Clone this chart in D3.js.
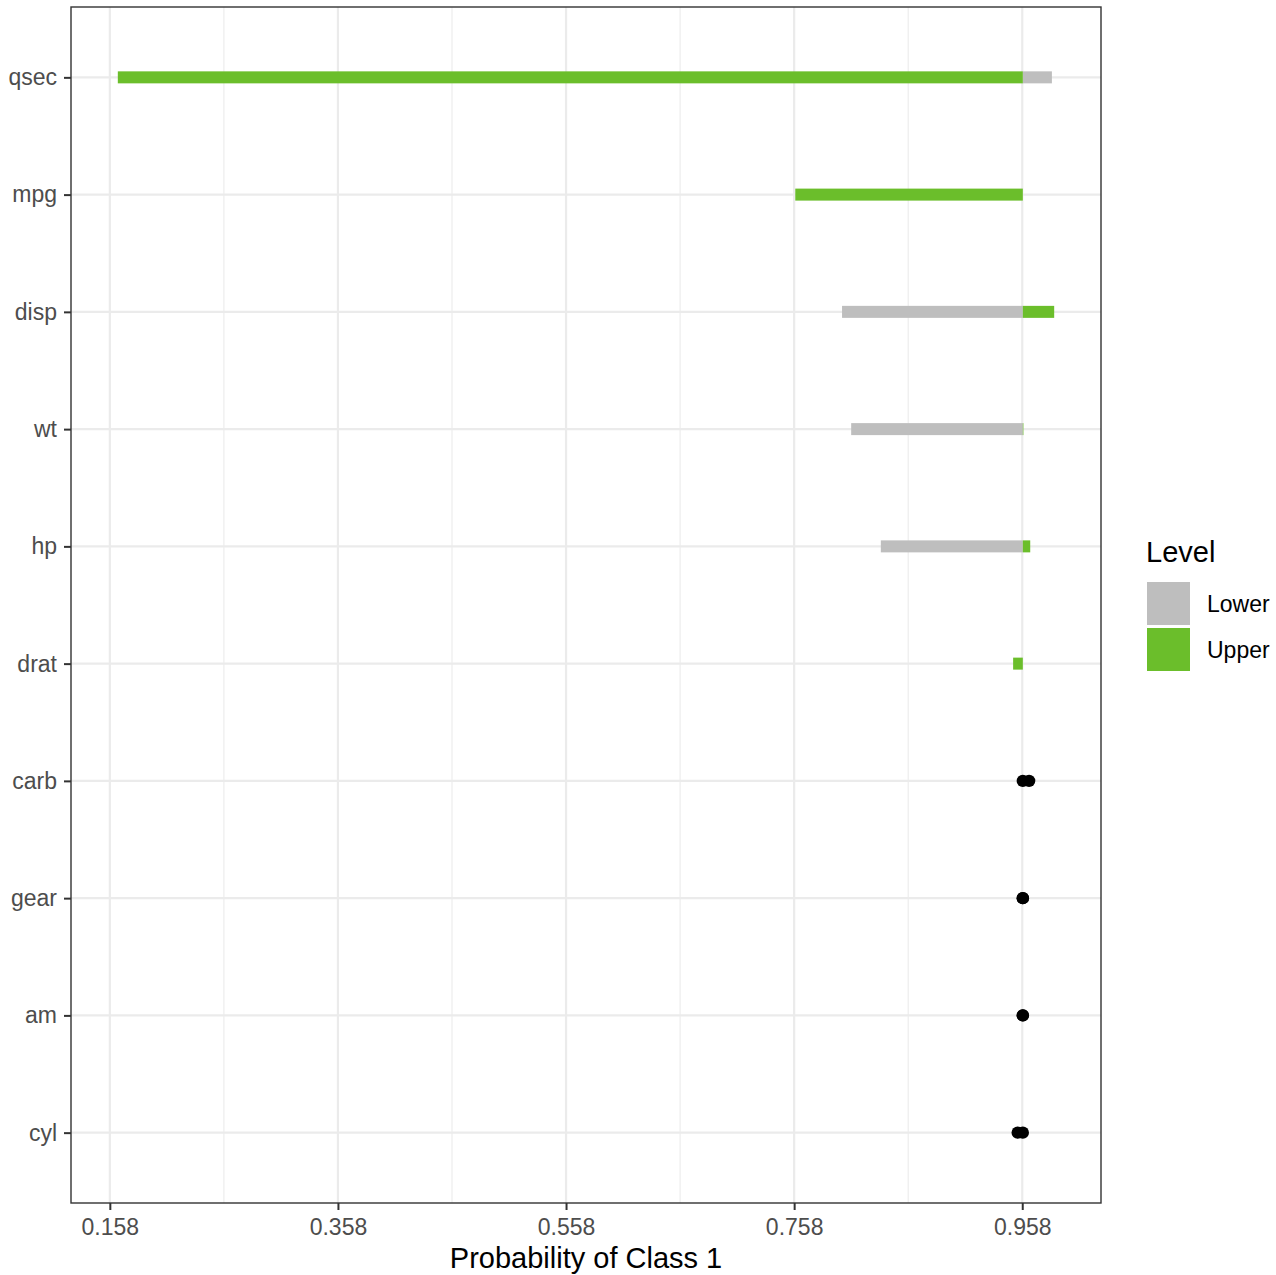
<!DOCTYPE html>
<html><head><meta charset="utf-8">
<script src="https://cdn.jsdelivr.net/npm/d3@7"></script>
<style>body{margin:0;background:#fff}svg{display:block}text{font-family:"Liberation Sans",Arial,sans-serif}</style>
</head><body>
<script>
const categories = ["qsec","mpg","disp","wt","hp","drat","carb","gear","am","cyl"];
const kinds = ["bar","bar","bar","bar","bar","bar","point","point","point","point"];
const baseProb = 0.9585;
const lowerVals = [0.984, 0.9585, 0.800, 0.808, 0.834, 0.9585, 0.9585, 0.9585, 0.9585, 0.954];
const upperVals = [0.165, 0.759, 0.986, 0.959, 0.965, 0.950, 0.964, 0.9585, 0.9585, 0.9585];
const xTicks = [0.158, 0.358, 0.558, 0.758, 0.958];
const xTickLabels = ["0.158","0.358","0.558","0.758","0.958"];
const levels = ["Lower","Upper"];
const levelColors = ["#BEBEBE","#6BBE2B"];

const W = 1276, H = 1275;
const P = {l:71, r:1101, t:7, b:1203};
const svg = d3.select("body").append("svg").attr("width",W).attr("height",H);

const allVals = lowerVals.concat(upperVals, [baseProb]);
const lo = d3.min(allVals), hi = d3.max(allVals), ext = (hi-lo)*0.05;
const x = d3.scaleLinear().domain([lo-ext, hi+ext]).range([P.l, P.r]);
const y = d3.scalePoint().domain(categories).range([P.t, P.b]).padding(0.6);

const g = svg.append("g");
const minor = [];
for (let i=0;i<xTicks.length-1;i++) minor.push((xTicks[i]+xTicks[i+1])/2);
g.selectAll(".mg").data(minor).join("line")
  .attr("x1",d=>x(d)).attr("x2",d=>x(d)).attr("y1",P.t).attr("y2",P.b)
  .attr("stroke","#EBEBEB").attr("stroke-width",1.1);
g.selectAll(".gx").data(xTicks).join("line")
  .attr("x1",d=>x(d)).attr("x2",d=>x(d)).attr("y1",P.t).attr("y2",P.b)
  .attr("stroke","#EBEBEB").attr("stroke-width",2.2);
g.selectAll(".gy").data(categories).join("line")
  .attr("x1",P.l).attr("x2",P.r).attr("y1",d=>y(d)).attr("y2",d=>y(d))
  .attr("stroke","#EBEBEB").attr("stroke-width",2.2);

const barH = 12;
categories.forEach((c,i)=>{
  if (kinds[i]!=="bar") return;
  [lowerVals[i], upperVals[i]].forEach((v,j)=>{
    const x0 = Math.min(x(baseProb), x(v)), x1 = Math.max(x(baseProb), x(v));
    if (x1-x0 < 0.01) return;
    g.append("rect").attr("x",x0).attr("width",x1-x0)
      .attr("y",y(c)-barH/2).attr("height",barH).attr("fill",levelColors[j]);
  });
});
categories.forEach((c,i)=>{
  if (kinds[i]!=="point") return;
  [lowerVals[i], upperVals[i]].forEach(v=>{
    g.append("circle").attr("cx",x(v)).attr("cy",y(c)).attr("r",6.2).attr("fill","#000");
  });
});

svg.append("rect").attr("x",P.l).attr("y",P.t).attr("width",P.r-P.l).attr("height",P.b-P.t)
  .attr("fill","none").attr("stroke","#333333").attr("stroke-width",1.4);

const xa = svg.append("g").attr("transform",`translate(0,${P.b})`)
  .call(d3.axisBottom(x).tickValues(xTicks).tickFormat((d,i)=>xTickLabels[i]).tickSize(7).tickPadding(9));
xa.select(".domain").remove();
xa.selectAll("line").attr("stroke","#333333").attr("stroke-width",2);
xa.selectAll("text").attr("fill","#4D4D4D").attr("font-size",23).attr("font-family","Liberation Sans, Arial, sans-serif");

const ya = svg.append("g").attr("transform",`translate(${P.l},0)`)
  .call(d3.axisLeft(y).tickSize(7).tickPadding(7));
ya.select(".domain").remove();
ya.selectAll("line").attr("stroke","#333333").attr("stroke-width",2);
ya.selectAll("text").attr("fill","#4D4D4D").attr("font-size",23).attr("font-family","Liberation Sans, Arial, sans-serif");

svg.append("text").attr("x",(P.l+P.r)/2).attr("y",1268).attr("text-anchor","middle")
  .attr("font-size",29).attr("fill","#000").text("Probability of Class 1");

const lg = svg.append("g");
lg.append("text").attr("x",1146).attr("y",562).attr("font-size",29).text("Level");
levels.forEach((l,i)=>{
  lg.append("rect").attr("x",1147).attr("y",582+i*46).attr("width",43).attr("height",43).attr("fill",levelColors[i]);
  lg.append("text").attr("x",1207).attr("y",603.5+i*46).attr("dy","0.35em").attr("font-size",23).text(l);
});
</script>
</body></html>
